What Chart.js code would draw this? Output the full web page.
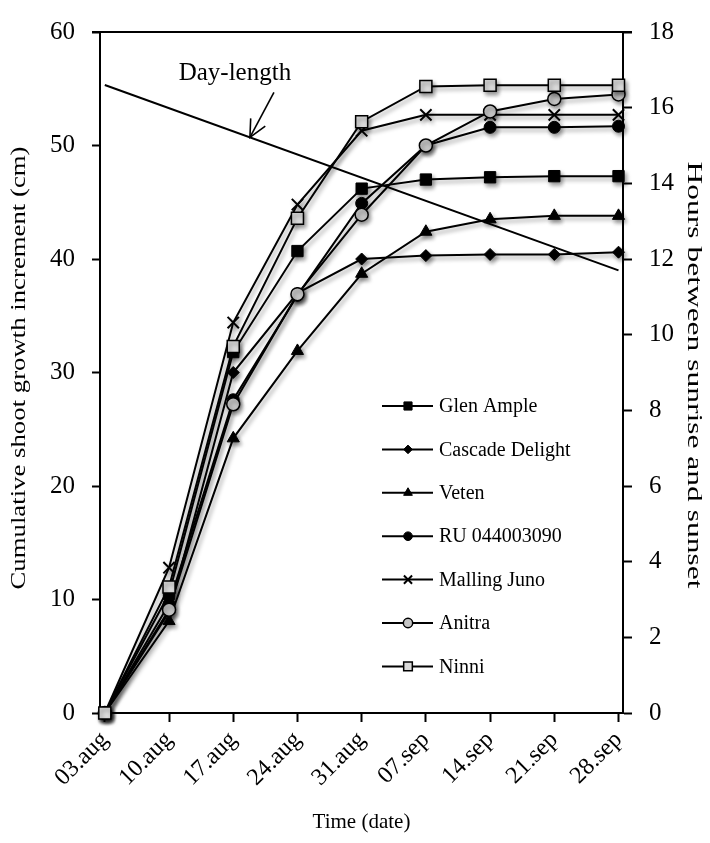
<!DOCTYPE html>
<html>
<head>
<meta charset="utf-8">
<script src="https://cdn.jsdelivr.net/npm/chart.js@4.4.1/dist/chart.umd.min.js"></script>
<style>
  html, body { margin: 0; padding: 0; background: #fff; }
</style>
</head>
<body>
<canvas id="chart" width="710" height="843"></canvas>
<script>
(function(){
  'use strict';

  const dates = ['03.aug', '10.aug', '17.aug', '24.aug', '31.aug', '07.sep', '14.sep', '21.sep', '28.sep'];

  // cumulative shoot growth (cm), one value per date
  const glenAmple      = [0, 10.5, 31.8, 40.7, 46.2, 47.0, 47.2, 47.3, 47.3];
  const cascadeDelight = [0,  8.9, 30.0, 37.0, 40.0, 40.3, 40.4, 40.4, 40.6];
  const veten          = [0,  8.1, 24.2, 31.9, 38.7, 42.4, 43.5, 43.8, 43.8];
  const ru044003090    = [0,  9.6, 27.6, 36.8, 44.9, 50.0, 51.6, 51.6, 51.7];
  const mallingJuno    = [0, 12.8, 34.4, 44.8, 51.3, 52.7, 52.7, 52.7, 52.7];
  const anitra         = [0,  9.1, 27.2, 36.9, 43.9, 50.0, 53.0, 54.1, 54.5];
  const ninni          = [0, 11.1, 32.3, 43.6, 52.1, 55.2, 55.3, 55.3, 55.3];

  // day-length (hours), read at first and last date
  const dayLengthDates = [0, 8];
  const dayLength      = [16.6, 11.7];

  const leftTicks  = [0, 10, 20, 30, 40, 50, 60];
  const rightTicks = [0, 2, 4, 6, 8, 10, 12, 14, 16, 18];

  const SERIF = "'Liberation Serif', 'Times New Roman', serif";

  const pts = arr => arr.map((v, i) => ({ x: i, y: v }));

  function series(label, data, style, radius, fill, order, bw){
    return {
      label, data: pts(data), yAxisID: 'y', order,
      borderColor: '#000', borderWidth: 2,
      pointStyle: style, pointRadius: radius, pointHoverRadius: radius,
      pointBackgroundColor: fill, pointBorderColor: '#000',
      pointBorderWidth: bw,
      tension: 0, clip: false
    };
  }

  const datasets = [
    series('Glen Ample', glenAmple, 'rect', 8, '#000', 4, 1),
    series('Cascade Delight', cascadeDelight, 'rectRot', 6, '#000', 6, 1),
    series('Veten', veten, 'triangle', 7, '#000', 5, 1),
    series('RU 044003090', ru044003090, 'circle', 6, '#000', 3, 1),
    series('Malling Juno', mallingJuno, 'crossRot', 8, '#000', 2, 2),
    series('Anitra', anitra, 'circle', 6.5, '#c4c4c4', 1, 1.5),
    series('Ninni', ninni, 'rect', 8.5, '#dadada', 0, 1.5),
    {
      label: 'Day-length',
      data: dayLengthDates.map((x, i) => ({ x, y: dayLength[i] })),
      yAxisID: 'y1', order: 7,
      borderColor: '#000', borderWidth: 2, pointRadius: 0, tension: 0
    }
  ];

  // soft drop shadow under the cultivar lines, as in the figure
  const shadow = {
    id: 'shadow',
    beforeDatasetDraw(chart, args){
      if (chart.data.datasets[args.index].yAxisID === 'y1') return;
      const ctx = chart.ctx;
      ctx.save();
      ctx.shadowColor = 'rgba(0,0,0,0.4)';
      ctx.shadowBlur = 4; ctx.shadowOffsetX = 2; ctx.shadowOffsetY = 3;
    },
    afterDatasetDraw(chart, args){
      if (chart.data.datasets[args.index].yAxisID === 'y1') return;
      chart.ctx.restore();
    }
  };

  // top frame line + day-length label with arrow
  const decor = {
    id: 'decor',
    afterDraw(chart){
      const { ctx, chartArea: { left, right, top }, scales: { x, y1 } } = chart;
      ctx.save();
      ctx.strokeStyle = '#000'; ctx.lineWidth = 2;
      ctx.beginPath(); ctx.moveTo(left - 8, top); ctx.lineTo(right + 9, top); ctx.stroke();

      // arrow tip sits on the day-length line
      const tx = 2.26;
      const ty = dayLength[0] + (dayLength[1] - dayLength[0]) * (tx - dayLengthDates[0]) / (dayLengthDates[1] - dayLengthDates[0]);
      const px = x.getPixelForValue(tx), py = y1.getPixelForValue(ty);
      const sx = px + 24, sy = py - 45;
      ctx.lineWidth = 1.6;
      ctx.beginPath(); ctx.moveTo(sx, sy); ctx.lineTo(px, py); ctx.stroke();
      const ang = Math.atan2(py - sy, px - sx);
      ctx.beginPath();
      ctx.moveTo(px - 19 * Math.cos(ang - 0.45), py - 19 * Math.sin(ang - 0.45));
      ctx.lineTo(px, py);
      ctx.lineTo(px - 19 * Math.cos(ang + 0.45), py - 19 * Math.sin(ang + 0.45));
      ctx.stroke();

      ctx.fillStyle = '#000';
      ctx.font = `25px ${SERIF}`;
      ctx.textAlign = 'center'; ctx.textBaseline = 'alphabetic';
      ctx.fillText('Day-length', px - 15, py - 57);
      ctx.restore();
    }
  };

  // legend inside the plot, lower right
  const legendBox = {
    id: 'legendBox',
    afterDraw(chart){
      const ctx = chart.ctx;
      const items = chart.data.datasets.filter(d => d.yAxisID === 'y');
      ctx.save();
      ctx.font = `20px ${SERIF}`;
      ctx.textBaseline = 'middle'; ctx.textAlign = 'left';
      items.forEach((d, i) => {
        const yy = 406 + i * 43.4;
        ctx.strokeStyle = '#000'; ctx.lineWidth = 2;
        ctx.beginPath(); ctx.moveTo(382, yy); ctx.lineTo(433, yy); ctx.stroke();
        ctx.fillStyle = d.pointBackgroundColor;
        ctx.lineWidth = d.pointBorderWidth;
        Chart.helpers.drawPoint(ctx, {
          pointStyle: d.pointStyle, radius: d.pointRadius * 0.72, borderWidth: d.pointBorderWidth
        }, 408, yy);
        ctx.fillStyle = '#000';
        ctx.fillText(d.label, 439, yy + 1);
      });
      ctx.restore();
    }
  };

  // rotated axis titles, stretched along their length like the figure
  function stretched(ctx, text, cx, cy, angle, len, size){
    ctx.save();
    ctx.font = `${size}px ${SERIF}`;
    ctx.translate(cx, cy); ctx.rotate(angle);
    const w = ctx.measureText(text).width;
    ctx.scale(len / w, 1);
    ctx.fillStyle = '#000'; ctx.textAlign = 'center'; ctx.textBaseline = 'middle';
    ctx.fillText(text, 0, 0);
    ctx.restore();
  }
  const titles = {
    id: 'titles',
    afterDraw(chart){
      stretched(chart.ctx, 'Cumulative shoot growth increment (cm)', 19, 368, -Math.PI / 2, 443, 21);
      stretched(chart.ctx, 'Hours between sunrise and sunset', 693, 375, Math.PI / 2, 427, 20);
    }
  };

  const axisLine = { color: '#000', width: 2 };
  const tickGrid = { drawOnChartArea: false, drawTicks: true, tickLength: 8, tickColor: '#000', tickWidth: 2 };

  new Chart(document.getElementById('chart'), {
    type: 'line',
    data: { datasets },
    options: {
      responsive: false,
      animation: false,
      layout: { padding: { top: 24, left: 0, right: 0, bottom: 0 } },
      plugins: { legend: { display: false }, tooltip: { enabled: false } },
      scales: {
        x: {
          type: 'linear', min: -0.075, max: 8.07,
          afterBuildTicks: s => { s.ticks = dates.map((_, i) => ({ value: i })); },
          afterFit: s => { s.height = 130; },
          border: axisLine,
          grid: { ...tickGrid, tickLength: 9 },
          ticks: {
            callback: v => dates[v],
            minRotation: 45, maxRotation: 45, padding: 4,
            color: '#000', font: { family: SERIF, size: 24 }
          },
          title: {
            display: true, text: 'Time (date)', color: '#000',
            font: { family: SERIF, size: 21 }, padding: { top: 0, bottom: 8 }
          }
        },
        y: {
          position: 'left', min: 0, max: 60,
          afterBuildTicks: s => { s.ticks = leftTicks.map(v => ({ value: v })); },
          afterFit: s => { s.width = 100; },
          border: axisLine,
          grid: tickGrid,
          ticks: { padding: 17, color: '#000', font: { family: SERIF, size: 25 } }
        },
        y1: {
          position: 'right', min: 0, max: 18,
          afterBuildTicks: s => { s.ticks = rightTicks.map(v => ({ value: v })); },
          afterFit: s => { s.width = 87; },
          border: axisLine,
          grid: { ...tickGrid, tickLength: 9 },
          ticks: { padding: 17, color: '#000', font: { family: SERIF, size: 25 } }
        }
      }
    },
    plugins: [shadow, decor, legendBox, titles]
  });
})();
</script>
</body>
</html>
